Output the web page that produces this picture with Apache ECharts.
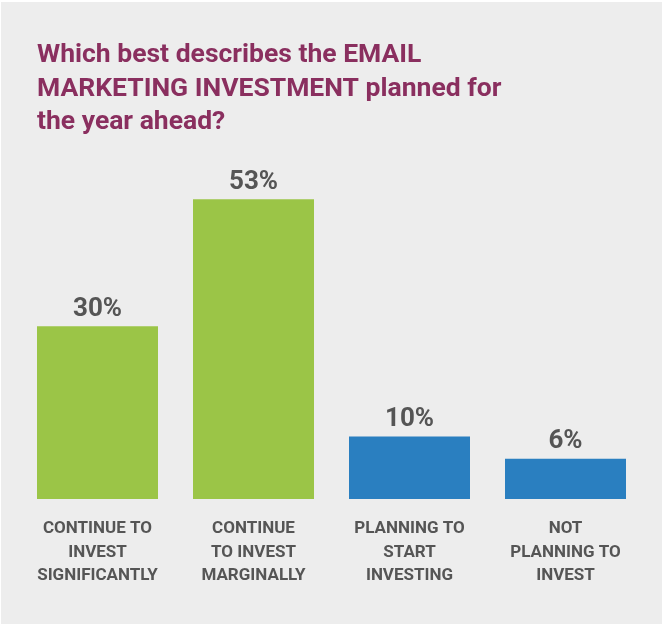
<!DOCTYPE html>
<html>
<head>
<meta charset="utf-8">
<script src="https://cdn.jsdelivr.net/npm/echarts@6/dist/echarts.min.js"></script>
<style>
html,body{margin:0;padding:0;background:#ffffff;}
#c{position:absolute;left:1px;top:2px;width:661px;height:622px;background:#ededed;}
</style>
</head>
<body>
<div id="c"></div>
<script>
const titleText = 'Which best describes the EMAIL\nMARKETING INVESTMENT planned for\nthe year ahead?';
const categories = [
  'CONTINUE TO\nINVEST\nSIGNIFICANTLY',
  'CONTINUE\nTO INVEST\nMARGINALLY',
  'PLANNING TO\nSTART\nINVESTING',
  'NOT\nPLANNING TO\nINVEST'
];
const values = [30, 53, 10, 6];
const barColors = ['#9bc547', '#9bc547', '#2a7fc0', '#2a7fc0'];

const chart = echarts.init(document.getElementById('c'));
chart.setOption({
  backgroundColor: '#ededed',
  animation: false,
  title: {
    text: titleText,
    left: 31,
    top: 32,
    textStyle: {
      fontFamily: 'Roboto',
      fontWeight: 'bold',
      fontSize: 26.5,
      lineHeight: 33.5,
      color: '#8a2f5f'
    }
  },
  grid: {left: 18.5, right: 18.5, top: 158.6, bottom: 125, containLabel: false},
  xAxis: {
    type: 'category',
    data: categories,
    axisLine: {show: false},
    axisTick: {show: false},
    axisLabel: {
      interval: 0,
      margin: 18,
      fontFamily: 'Roboto',
      fontWeight: 'bold',
      fontSize: 17,
      lineHeight: 23.5,
      color: '#555555'
    }
  },
  yAxis: {
    type: 'value',
    min: -1.3,
    max: 60,
    startValue: -1.3,
    show: false,
    splitLine: {show: false}
  },
  series: [{
    type: 'bar',
    barWidth: 121,
    data: values.map((v, i) => ({value: v, itemStyle: {color: barColors[i]}})),
    label: {
      show: true,
      position: 'top',
      distance: 4,
      formatter: '{c}%',
      fontFamily: 'Roboto',
      fontWeight: 'bold',
      fontSize: 26,
      color: '#555555'
    }
  }]
});
</script>
</body>
</html>
